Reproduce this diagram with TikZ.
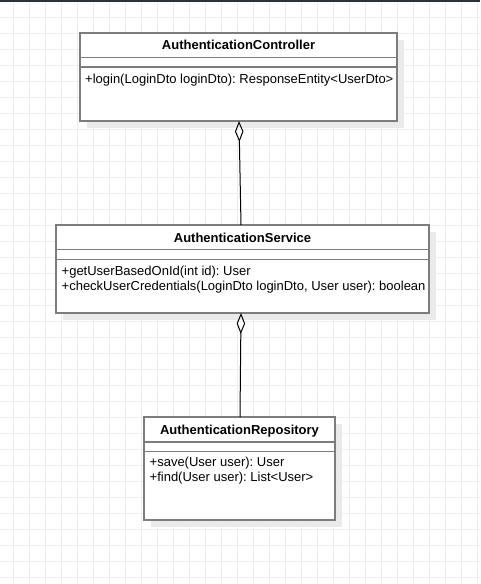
\documentclass[tikz,border=0pt]{standalone}
\usepackage{fontspec}
\setmainfont{Liberation Sans}
\usetikzlibrary{arrows.meta,calc}
\definecolor{gridc}{RGB}{238,238,238}
\definecolor{boxc}{RGB}{125,125,125}
\definecolor{shadc}{RGB}{234,234,234}
\definecolor{topc}{RGB}{45,50,54}
\frenchspacing
\begin{document}
\begin{tikzpicture}[x=1pt,y=-1pt,
  umlbox/.style={draw=boxc, line width=1.4pt, fill=white, inner sep=0pt, outer sep=0pt, anchor=north west},
  umltitle/.style={font=\fontsize{13}{15}\selectfont\bfseries, anchor=base, inner sep=0pt},
  umlmeth/.style={font=\fontsize{13}{15}\selectfont, anchor=base west, inner sep=0pt},
  umlsep/.style={draw=boxc, line width=1.4pt},
  umlshadow/.style={fill=shadc},
  aggr/.style={{Diamond[open,length=21pt,width=8.5pt]}-, line width=1pt, black},
  gridline/.style={draw=gridc, line width=1pt}]
\useasboundingbox (0,0) rectangle (480,584);
% grid
\foreach \x in {13,29,...,477} \draw[gridline] (\x,0) -- (\x,584);
\foreach \y in {1,17,...,577} \draw[gridline] (0,\y) -- (480,\y);
\fill[topc] (0,0) rectangle (480,1.5);

% AuthenticationController
\fill[umlshadow] (87,40) rectangle (404,128);
\node[umlbox, minimum width=317pt, minimum height=88pt] (ctrl) at (80,33) {};
\draw[umlsep] ($(ctrl.north west)+(0,24.5)$) -- ($(ctrl.north east)+(0,24.5)$);
\draw[umlsep] ($(ctrl.north west)+(0,34)$) -- ($(ctrl.north east)+(0,34)$);
\node[umltitle] (ctrlT) at (238.5,49.5) {AuthenticationController};
\node[umlmeth] (ctrlM1) at (85,83.5) {+login(LoginDto loginDto): ResponseEntity<UserDto>};

% AuthenticationService
\fill[umlshadow] (63,232) rectangle (436,320);
\node[umlbox, minimum width=373pt, minimum height=88pt] (svc) at (56,225) {};
\draw[umlsep] ($(svc.north west)+(0,24.5)$) -- ($(svc.north east)+(0,24.5)$);
\draw[umlsep] ($(svc.north west)+(0,34.5)$) -- ($(svc.north east)+(0,34.5)$);
\node[umltitle] (svcT) at (242.5,242) {AuthenticationService};
\node[umlmeth] (svcM1) at (61.5,275) {+getUserBasedOnId(int id): User};
\node[umlmeth] (svcM2) at (61.5,290) {+checkUserCredentials(LoginDto loginDto, User user): boolean};

% AuthenticationRepository
\fill[umlshadow] (151,424) rectangle (342,527);
\node[umlbox, minimum width=191pt, minimum height=103pt] (repo) at (144,417) {};
\draw[umlsep] ($(repo.north west)+(0,25)$) -- ($(repo.north east)+(0,25)$);
\draw[umlsep] ($(repo.north west)+(0,34.5)$) -- ($(repo.north east)+(0,34.5)$);
\node[umltitle] (repoT) at (239.5,434.5) {AuthenticationRepository};
\node[umlmeth] (repoM1) at (149.5,466.5) {+save(User user): User};
\node[umlmeth] (repoM2) at (149.5,481.5) {+find(User user): List<User>};

% aggregations
\draw[aggr] ([xshift=0.5pt]ctrl.south) -- ([xshift=-1.5pt]svc.north);
\draw[aggr] ([xshift=-1.5pt]svc.south) -- ([xshift=0.5pt]repo.north);
\end{tikzpicture}
\end{document}
